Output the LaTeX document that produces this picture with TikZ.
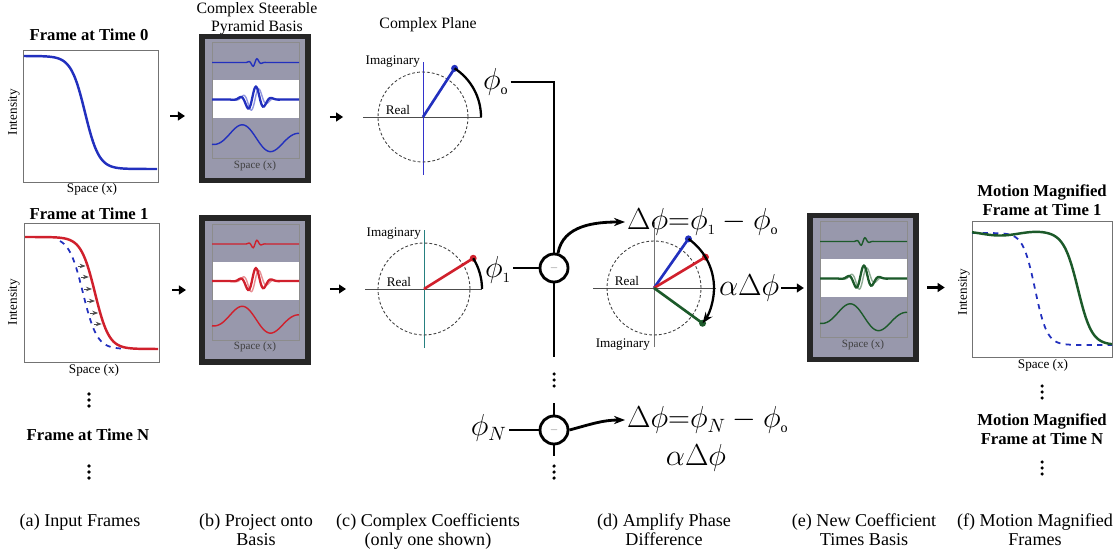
\documentclass[tikz,border=0pt]{standalone}
\usepackage{fontspec}
\setmainfont{Liberation Serif}
\usepackage{amsmath}
\usepackage{xcolor}
\usepackage{tikz}
\usetikzlibrary{arrows.meta}

\definecolor{sigblue}{RGB}{34,48,190}
\definecolor{sigred}{RGB}{208,32,44}
\definecolor{siggreen}{RGB}{28,90,42}
\definecolor{basisgray}{RGB}{152,152,172}

\begin{document}
\begin{tikzpicture}[x=0.02cm, y=-0.02cm, >={Stealth[length=2.2mm]},
  plotbox/.style={draw=black!55, line width=0.5pt, minimum width=2.7cm, inner sep=0pt},
  basisbox/.style={draw=black!85, line width=3pt, fill=basisgray, minimum width=2.12cm, minimum height=2.88cm, inner sep=0pt},
  title/.style={font=\fontsize{9.5}{10.5}\selectfont\bfseries, align=center},
  toptext/.style={font=\fontsize{9}{10.5}\selectfont, align=center},
  axlabel/.style={font=\fontsize{7.5}{9}\selectfont, inner sep=1pt},
  tinylabel/.style={font=\fontsize{6.3}{7}\selectfont, text=black!75},
  caption/.style={font=\fontsize{10.3}{10.8}\selectfont, align=center, anchor=north},
  bigmath/.style={font=\fontsize{16}{18}\selectfont, inner sep=1pt},
  dotsnode/.style={minimum width=4pt, minimum height=18pt, inner sep=0pt},
  wire/.style={line width=1.6pt},
  flow/.style={line width=1.5pt, -{Triangle[length=4pt,width=5pt]}},
  minusnode/.style={circle, draw, line width=1.6pt, fill=white, minimum size=0.56cm, inner sep=0pt, font=\tiny, text=black!50},
  realaxis/.style={black!70, line width=0.5pt},
  unitring/.style={black!75, line width=0.5pt, dash pattern=on 1.6pt off 1.2pt},
  phasearc/.style={line width=1.3pt},
  vec/.style={line width=1.5pt}]
  \useasboundingbox (0,0) rectangle (1118,550);

  % (a) input frames
  \node[title] (ta0) at (89,35) {Frame at Time 0};
  \node[plotbox, minimum height=2.64cm] (fa0) at (90.5,116) {};
  \draw[sigblue, line width=1.4pt] plot[domain=24:157, samples=120] (\x, {56+113/(1+exp(min(9,-(\x-85)/7)))});
  \node[axlabel, rotate=90] (ia0) at (14,112) {Intensity};
  \node[axlabel] (sa0) at (92,189) {Space (x)};

  \node[title] (ta1) at (89,214) {Frame at Time 1};
  \node[plotbox, minimum height=2.78cm] (fa1) at (91.5,292.5) {};
  \draw[sigblue, line width=1pt, dashed] plot[domain=60:125, samples=70] (\x, {237+112/(1+exp(min(9,-(\x-83)/7)))});
  \draw[sigred, line width=1.4pt] plot[domain=25:158, samples=120] (\x, {237+112/(1+exp(min(9,-(\x-95)/7)))});
  \foreach \yy/\xb in {266/75.6, 277/78.9, 289/82.0, 301/85.0, 313/88.2, 324/91.7}
    \draw[black!70, line width=0.5pt, -{Stealth[length=1.2mm]}] (\xb+2,\yy) -- (\xb+10,\yy);
  \node[axlabel, rotate=90] (ia1) at (14,302) {Intensity};
  \node[axlabel] (sa1) at (94,370) {Space (x)};

  \node[dotsnode] (da1) at (89,400) {};
  \node[title] (taN) at (88,435) {Frame at Time N};
  \node[dotsnode] (da2) at (89,472) {};

  % (b) basis and (e) new basis
  \node[toptext] (tb) at (257,19) {Complex Steerable\\Pyramid Basis};
  \node[basisbox] (pb0) at (255,108.5) {};
  \node[basisbox] (pb1) at (255,290) {};
  \node[basisbox] (pe) at (863,287.5) {};
  \foreach \cx/\cy/\col [count=\k] in {255/108.5/sigblue, 255/290/sigred, 863/287.5/siggreen} {
    \fill[white] (\cx-43,\cy-28) rectangle (\cx+44,\cy+10);
    \draw[black!45, line width=0.4pt] (\cx-43,\cy-66) rectangle (\cx+44,\cy+50);
    \draw[\col, line width=0.8pt] plot[domain=-43:44, samples=100] ({\cx+\x}, {\cy-46-4.5*exp(-(\x*\x)/25)*sin(40*\x)});
    \draw[\col!50, line width=0.8pt] plot[domain=-43:44, samples=100] ({\cx+\x}, {\cy-9-12*exp(-(\x*\x)/130)*sin(22*\x)});
    \draw[\col, line width=1.3pt] plot[domain=-43:44, samples=100] ({\cx+\x}, {\cy-9-13*exp(-(\x*\x)/130)*cos(22*(\x-1))});
    \draw[\col, line width=0.8pt] plot[domain=-43:44, samples=60] ({\cx+\x}, {\cy+30-15*exp(-(\x*\x)/2000)*cos(5.8*(\x+14))});
    \node[tinylabel] (bsp\k) at (\cx,\cy+57) {Space (x)};
  }

  % (c) complex planes
  \node[toptext] (tc) at (428,25) {Complex Plane};
  \begin{scope}[shift={(423,117)}, yscale=-1]
    \draw[realaxis] (-60,0) -- (59,0);
    \draw[blue!60!gray, line width=0.5pt] (0,-58) -- (0,55);
    \coordinate (c0l) at (-60,0);
    \draw[unitring] (0,0) circle[radius=45];
    \draw[vec, sigblue] (0,0) -- (57:58);
    \fill[sigblue] (57:58) circle[radius=3.5];
    \draw[phasearc] (57:58) arc[start angle=57, end angle=0, radius=58];
    \node[axlabel, anchor=east] (im0) at (-1,55) {Imaginary};
    \node[axlabel, anchor=south] (re0) at (-25,0) {Real};
  \end{scope}
  \begin{scope}[shift={(424,289)}, yscale=-1]
    \draw[realaxis] (-59,0) -- (58,0);
    \draw[teal!70!gray, line width=0.5pt] (0,-59) -- (0,59);
    \coordinate (c1l) at (-59,0);
    \draw[unitring] (0,0) circle[radius=46];
    \draw[vec, sigred] (0,0) -- (32:58);
    \fill[sigred] (32:58) circle[radius=3.5];
    \draw[phasearc] (32:58) arc[start angle=32, end angle=0, radius=58];
    \node[axlabel, anchor=east] (im1) at (-1,55) {Imaginary};
    \node[axlabel, anchor=south] (re1) at (-25,0) {Real};
  \end{scope}

  % arrows between panels
  \draw[flow, shorten <=6.6pt, shorten >=8.2pt] (fa0.east) -- (fa0.east -| pb0.west);
  \draw[flow, shorten <=7.2pt, shorten >=7.6pt] (pb1.west -| fa1.east) -- (pb1.west);
  \draw[flow, shorten <=11pt, shorten >=11.3pt] (pb0.east |- c0l) -- (c0l);
  \draw[flow, shorten <=11pt, shorten >=10.8pt] (pb1.east |- c1l) -- (c1l);

  % phase differences
  \node[minusnode] (m1) at (554,268) {$-$};
  \node[minusnode] (mN) at (554,430) {$-$};
  \node[bigmath, anchor=west] (phi0) at (481,82) {$\phi_{\scriptscriptstyle\mathrm{o}}$};
  \node[bigmath, anchor=west] (phi1) at (483,270) {$\phi_{\scriptscriptstyle 1}$};
  \node[bigmath, anchor=east] (phiN) at (509,428) {$\phi_N$};
  \draw[wire] (phi0) -| (m1);
  \draw[wire] (phi1.east |- m1) -- (m1);
  \coordinate (m1low) at (554,357);
  \draw[wire] (m1) -- (m1low);
  \node[dotsnode] (vd1) at (554,380) {};
  \coordinate (mNtop) at (554,403);
  \coordinate (mNlow) at (554,456);
  \draw[wire] (mNtop) -- (mN) -- (mNlow);
  \node[dotsnode] (vd2) at (554,472) {};
  \draw[wire] (phiN.east |- mN) -- (mN);

  \node[bigmath, anchor=west] (dtop) at (625,222) {$\Delta\phi{=}\phi_{\scriptscriptstyle 1} - \phi_{\scriptscriptstyle\mathrm{o}}$};
  \node[bigmath, anchor=west] (dN) at (625,420) {$\Delta\phi{=}\phi_{N} - \phi_{\scriptscriptstyle\mathrm{o}}$};
  \node[bigmath] (aN) at (696,458) {$\alpha\Delta\phi$};
  \draw[wire, ->] (m1.75) to[out=80, in=180] (dtop.west);
  \draw[wire, ->] (mN.east) to[out=15, in=180] (dN.west);

  % (d) amplified plane
  \begin{scope}[shift={(654,288)}, yscale=-1]
    \draw[realaxis] (-61,0) -- (62,0);
    \draw[black!55, line width=0.5pt] (0,-59) -- (0,66);
    \draw[unitring] (0,0) circle[radius=47];
    \draw[vec, sigblue] (0,0) -- (55:60);
    \draw[vec, sigred] (0,0) -- (31:60);
    \draw[vec, siggreen] (0,0) -- (-36:60);
    \fill[sigblue] (55:60) circle[radius=3.5];
    \fill[sigred] (31:60) circle[radius=3.5];
    \fill[siggreen] (-36:60) circle[radius=3.5];
    \draw[phasearc, ->] (55:60) arc[start angle=55, end angle=-36, radius=60];
    \node[axlabel, anchor=east] (im2) at (-2,-57) {Imaginary};
    \node[axlabel, anchor=south] (re2) at (-27,0) {Real};
  \end{scope}
  \node[bigmath, anchor=west] (amp) at (717,288) {$\alpha\Delta\phi$};
  \draw[flow, shorten >=2pt] (amp.east) -- (amp.east -| pe.west);

  % (f) magnified frames
  \node[title] (tf1) at (1042,200) {Motion Magnified\\Frame at Time 1};
  \node[plotbox, minimum width=2.8cm, minimum height=2.72cm] (ff) at (1042,289) {};
  \draw[sigblue, line width=1pt, dashed] plot[domain=972:1112, samples=120] (\x, {233+112/(1+exp(min(9,-(\x-1035)/6)))});
  \draw[siggreen, line width=1.4pt] plot[domain=972:1112, samples=140] (\x, {233+2.5*sin(4*(\x-977.5))*exp(-((\x-1000)/60)*((\x-1000)/60))+112/(1+exp(min(9,-(\x-1078)/7)))});
  \node[axlabel, rotate=90] (iff) at (964,292) {Intensity};
  \node[axlabel] (sff) at (1043,365) {Space (x)};
  \draw[flow, shorten <=4.8pt, shorten >=15.3pt] (pe.east) -- (pe.east -| ff.west);
  \node[dotsnode] (df1) at (1042,392) {};
  \node[title] (tfN) at (1042,429) {Motion Magnified\\Frame at Time N};
  \node[dotsnode] (df2) at (1042,468) {};

  % vertical ellipses
  \foreach \d in {da1,da2,vd1,vd2,df1,df2}
    \fill (\d.center) ++(0,-6) circle[radius=1pt] ++(0,6) circle[radius=1pt] ++(0,6) circle[radius=1pt];

  % captions
  \node[caption] (capa) at (80,508) {(a) Input Frames};
  \node[caption] (capb) at (256,508) {(b) Project onto\\Basis};
  \node[caption] (capc) at (428,508) {(c) Complex Coefficients\\(only one shown)};
  \node[caption] (capd) at (664,508) {(d) Amplify Phase\\Difference};
  \node[caption] (cape) at (864,508) {(e) New Coefficient\\Times Basis};
  \node[caption] (capf) at (1035,508) {(f) Motion Magnified\\Frames};
\end{tikzpicture}
\end{document}
